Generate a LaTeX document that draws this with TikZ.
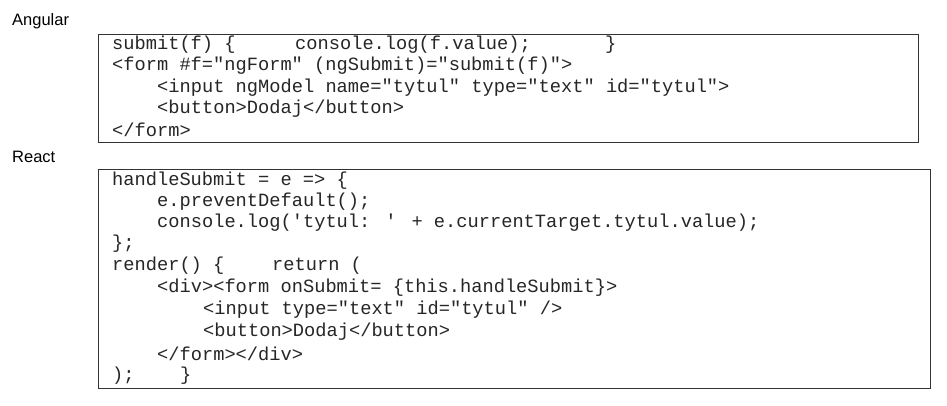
\documentclass[tikz,border=0pt]{standalone}
\usepackage{fontspec}
\setmainfont{Liberation Sans}
\newfontfamily\codefont{Liberation Mono}
\begin{document}
\begin{tikzpicture}[x=1pt,y=1pt,
  code/.style={anchor=west,inner sep=0pt,font=\codefont\fontsize{18.7}{20}\selectfont,text=black!85},
  lbl/.style={anchor=west,inner sep=0pt,font=\fontsize{16.5}{18}\selectfont},
  box/.style={draw=black!80,line width=1pt}]
\useasboundingbox (0,0) rectangle (947,-405);
\fill[white] (0,0) rectangle (947,-405);
\node[lbl] (la) at (12,-21) {Angular};
\draw[box] (98,-34) rectangle (918,-142);
\node[code] (a1) at (112,-45) {submit(f) \{};
\node[code] (a1b) at (295,-45) {console.log(f.value);};
\node[code] (a1c) at (605,-45) {\}};
\node[code] (a2) at (112,-66) {<form \#f="ngForm" (ngSubmit)="submit(f)">};
\node[code] (a3) at (157,-88) {<input ngModel name="tytul" type="text" id="tytul">};
\node[code] (a4) at (157,-109) {<button>Dodaj</button>};
\node[code] (a5) at (112,-130) {</form>};
\node[lbl] (lr) at (12,-157) {React};
\draw[box] (98,-169) rectangle (930,-388);
\node[code] (r1) at (112,-181) {handleSubmit = e => \{};
\node[code] (r2) at (157,-202) {e.preventDefault();};
\node[code] (r3) at (157,-223) {console.log('tytul: ' + e.currentTarget.tytul.value);};
\node[code] (r4) at (112,-244) {\};};
\node[code] (r5) at (112,-266) {render() \{};
\node[code] (r5b) at (272,-266) {return (};
\node[code] (r6) at (157,-288) {<div><form onSubmit= \{this.handleSubmit\}>};
\node[code] (r7) at (203,-310) {<input type="text" id="tytul" />};
\node[code] (r8) at (203,-332) {<button>Dodaj</button>};
\node[code] (r9) at (157,-354) {</form></div>};
\node[code] (r10) at (112,-376) {);};
\node[code] (r10b) at (180,-376) {\}};
\end{tikzpicture}
\end{document}
